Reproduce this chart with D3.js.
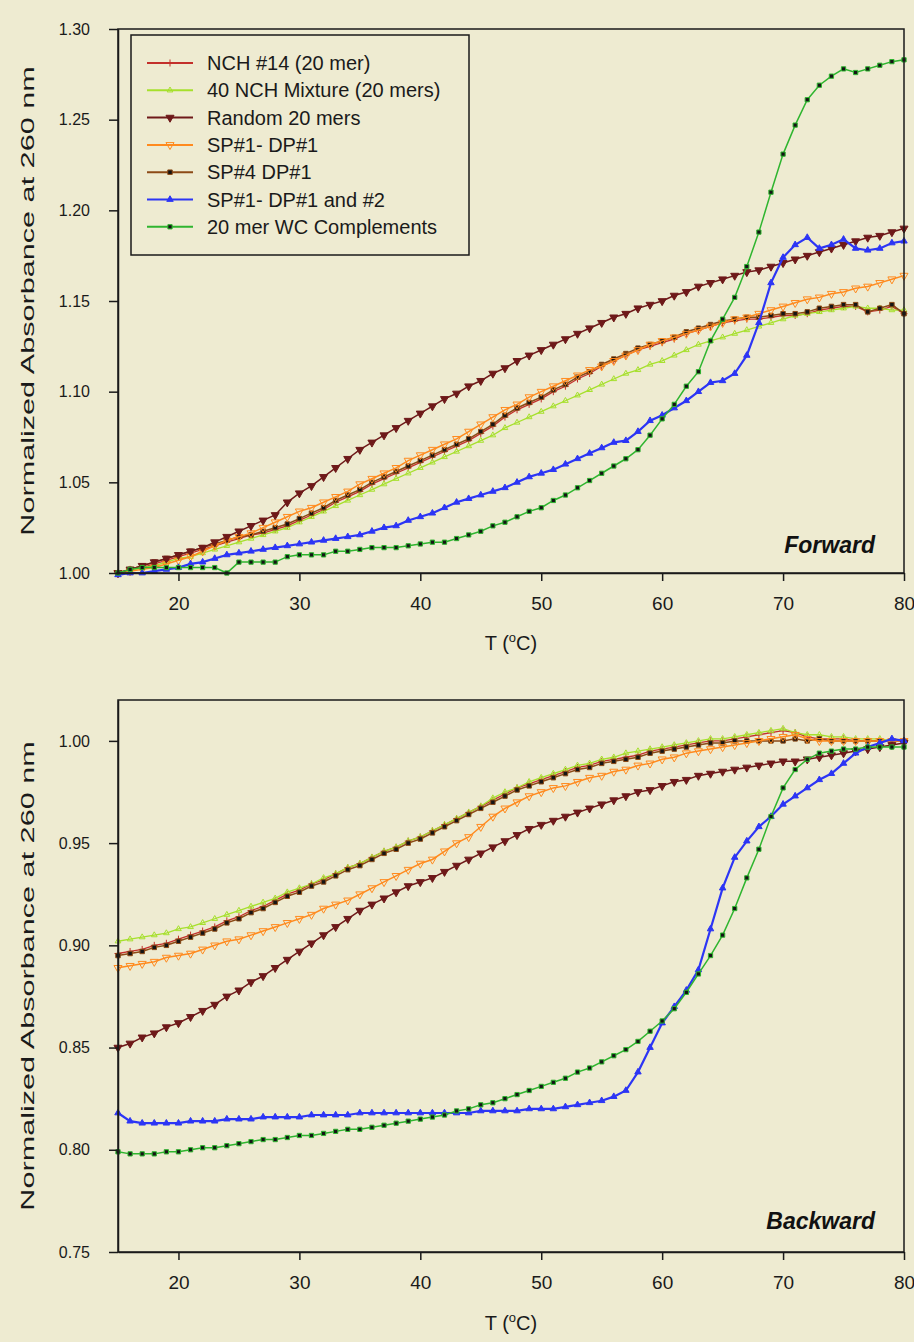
<!DOCTYPE html>
<html lang="en">
<head>
<meta charset="UTF-8" />
<title>UV melting curves - Forward / Backward</title>
<script src="https://d3js.org/d3.v7.min.js"></script>
<style>
  body { margin: 0; background: #eeebd1; }
  svg { display: block; font-family: "Liberation Sans", Arial, sans-serif; }
  .axis path, .axis line { stroke: #1a1a1a; stroke-width: 1.5px; }
  .axis text { fill: #1a1a1a; }
  .line { fill: none; }
</style>
</head>
<body>
<svg width="914" height="1342"></svg>
<script>
// temperature grid (deg C)
const temps = [15,16,17,18,19,20,21,22,23,24,25,26,27,28,29,30,31,32,33,34,35,36,37,38,39,40,
  41,42,43,44,45,46,47,48,49,50,51,52,53,54,55,56,57,58,59,60,61,62,63,64,65,66,67,68,69,70,
  71,72,73,74,75,76,77,78,79,80];

const seriesNames = ["NCH #14 (20 mer)", "40 NCH Mixture (20 mers)", "Random 20 mers",
  "SP#1- DP#1", "SP#4 DP#1", "SP#1- DP#1 and #2", "20 mer WC Complements"];

const xTicks = [20, 30, 40, 50, 60, 70, 80];
const fwdTicks = [1.00, 1.05, 1.10, 1.15, 1.20, 1.25, 1.30];
const bwdTicks = [0.75, 0.80, 0.85, 0.90, 0.95, 1.00];

// ---- Forward (heating) ----
const fwdNch14 = [1.000,1.002,1.003,1.005,1.007,1.009,1.011,1.013,1.015,1.017,
  1.019,1.021,1.022,1.024,1.026,1.029,1.032,1.035,1.039,1.042,
  1.045,1.049,1.052,1.055,1.058,1.061,1.064,1.067,1.070,1.073,
  1.077,1.081,1.086,1.090,1.093,1.096,1.100,1.103,1.107,1.110,
  1.114,1.117,1.120,1.123,1.125,1.127,1.129,1.132,1.134,1.136,
  1.138,1.139,1.140,1.140,1.141,1.142,1.142,1.143,1.145,1.146,
  1.147,1.147,1.144,1.145,1.147,1.143];
const fwdNchMix = [1.000,1.001,1.003,1.004,1.006,1.008,1.009,1.011,1.013,1.015,
  1.017,1.019,1.021,1.023,1.025,1.028,1.031,1.034,1.037,1.040,
  1.043,1.046,1.049,1.052,1.055,1.058,1.061,1.064,1.067,1.070,
  1.073,1.076,1.080,1.083,1.086,1.089,1.092,1.095,1.098,1.101,
  1.104,1.107,1.110,1.112,1.115,1.117,1.120,1.123,1.126,1.128,
  1.130,1.132,1.134,1.136,1.138,1.140,1.142,1.143,1.144,1.145,
  1.146,1.147,1.146,1.146,1.145,1.145];
const fwdRandom = [1.000,1.002,1.004,1.006,1.008,1.010,1.012,1.014,1.017,1.020,
  1.023,1.026,1.029,1.032,1.039,1.044,1.048,1.053,1.058,1.063,
  1.068,1.072,1.076,1.080,1.084,1.088,1.092,1.096,1.099,1.103,
  1.106,1.110,1.113,1.117,1.120,1.123,1.126,1.129,1.132,1.135,
  1.138,1.141,1.143,1.146,1.148,1.150,1.153,1.155,1.158,1.160,
  1.162,1.164,1.166,1.167,1.169,1.171,1.173,1.175,1.177,1.179,
  1.181,1.183,1.185,1.186,1.188,1.190];
const fwdSp1Dp1 = [1.000,1.001,1.002,1.003,1.005,1.007,1.009,1.012,1.015,1.018,
  1.020,1.022,1.025,1.028,1.031,1.034,1.036,1.039,1.042,1.045,
  1.049,1.052,1.055,1.058,1.062,1.065,1.068,1.071,1.074,1.078,
  1.082,1.086,1.090,1.093,1.097,1.100,1.103,1.106,1.109,1.112,
  1.114,1.117,1.120,1.123,1.126,1.128,1.130,1.132,1.134,1.136,
  1.138,1.140,1.141,1.143,1.145,1.147,1.149,1.151,1.152,1.154,
  1.155,1.157,1.158,1.160,1.162,1.164];
const fwdSp4Dp1 = [1.000,1.002,1.004,1.006,1.008,1.010,1.012,1.014,1.016,1.018,
  1.020,1.021,1.023,1.025,1.027,1.030,1.033,1.036,1.040,1.043,
  1.046,1.050,1.053,1.056,1.059,1.062,1.065,1.068,1.071,1.074,
  1.078,1.082,1.087,1.091,1.094,1.097,1.101,1.104,1.108,1.111,
  1.115,1.118,1.121,1.124,1.126,1.128,1.130,1.133,1.135,1.137,
  1.139,1.140,1.141,1.141,1.142,1.143,1.143,1.144,1.146,1.147,
  1.148,1.148,1.144,1.146,1.148,1.143];
const fwdSp1Dp12 = [0.999,1.000,1.000,1.001,1.002,1.003,1.005,1.006,1.008,1.010,
  1.011,1.012,1.013,1.014,1.015,1.016,1.017,1.018,1.019,1.020,
  1.021,1.023,1.025,1.026,1.029,1.031,1.033,1.036,1.039,1.041,
  1.043,1.045,1.047,1.050,1.053,1.055,1.057,1.060,1.063,1.066,
  1.069,1.072,1.073,1.078,1.084,1.087,1.091,1.095,1.100,1.105,
  1.106,1.110,1.120,1.138,1.160,1.174,1.181,1.185,1.179,1.181,
  1.184,1.179,1.178,1.179,1.182,1.183];
const fwdWc = [1.000,1.002,1.003,1.003,1.003,1.003,1.003,1.003,1.003,1.000,
  1.006,1.006,1.006,1.006,1.009,1.010,1.010,1.010,1.012,1.012,
  1.013,1.014,1.014,1.014,1.015,1.016,1.017,1.017,1.019,1.021,
  1.023,1.026,1.028,1.031,1.034,1.036,1.040,1.043,1.047,1.051,
  1.055,1.059,1.063,1.068,1.076,1.085,1.093,1.103,1.111,1.128,
  1.140,1.152,1.169,1.188,1.210,1.231,1.247,1.261,1.269,1.274,
  1.278,1.276,1.278,1.280,1.282,1.283];

// ---- Backward (cooling) ----
const bwdNch14 = [0.896,0.897,0.898,0.900,0.901,0.903,0.905,0.907,0.909,0.912,
  0.914,0.917,0.919,0.922,0.925,0.927,0.930,0.932,0.935,0.938,
  0.940,0.943,0.946,0.948,0.951,0.953,0.956,0.959,0.962,0.965,
  0.968,0.971,0.974,0.977,0.979,0.981,0.983,0.985,0.987,0.988,
  0.990,0.991,0.992,0.993,0.995,0.996,0.997,0.998,0.999,1.000,
  1.000,1.001,1.002,1.003,1.004,1.005,1.004,1.002,1.001,1.001,
  1.001,1.000,1.000,1.000,1.000,1.000];
const bwdNchMix = [0.902,0.903,0.904,0.905,0.906,0.908,0.909,0.911,0.913,0.915,
  0.917,0.919,0.921,0.923,0.926,0.928,0.930,0.933,0.935,0.938,
  0.940,0.943,0.946,0.948,0.951,0.953,0.956,0.959,0.962,0.965,
  0.968,0.972,0.975,0.977,0.980,0.982,0.984,0.986,0.988,0.989,
  0.991,0.992,0.994,0.995,0.996,0.997,0.998,0.999,1.000,1.001,
  1.001,1.002,1.003,1.004,1.005,1.006,1.004,1.003,1.003,1.002,
  1.002,1.001,1.001,1.001,1.000,1.000];
const bwdRandom = [0.850,0.852,0.855,0.857,0.860,0.862,0.865,0.868,0.871,0.875,
  0.878,0.882,0.885,0.889,0.893,0.897,0.901,0.905,0.909,0.913,
  0.917,0.920,0.923,0.926,0.929,0.931,0.933,0.936,0.939,0.942,
  0.945,0.948,0.951,0.954,0.957,0.959,0.961,0.963,0.965,0.967,
  0.969,0.971,0.973,0.975,0.976,0.978,0.980,0.981,0.983,0.984,
  0.985,0.986,0.987,0.988,0.989,0.990,0.990,0.991,0.992,0.993,
  0.994,0.995,0.996,0.997,0.998,0.999];
const bwdSp1Dp1 = [0.889,0.890,0.891,0.892,0.894,0.895,0.896,0.898,0.900,0.902,
  0.903,0.905,0.907,0.909,0.911,0.913,0.915,0.918,0.920,0.922,
  0.925,0.928,0.931,0.934,0.937,0.940,0.942,0.946,0.950,0.953,
  0.958,0.963,0.967,0.970,0.973,0.975,0.977,0.978,0.980,0.982,
  0.983,0.985,0.986,0.988,0.989,0.991,0.992,0.994,0.995,0.996,
  0.997,0.998,0.999,1.000,1.001,1.002,1.003,1.001,1.000,1.000,
  1.000,1.000,1.000,1.000,1.000,1.000];
const bwdSp4Dp1 = [0.895,0.896,0.897,0.899,0.900,0.902,0.904,0.906,0.908,0.911,
  0.913,0.916,0.918,0.921,0.924,0.926,0.929,0.931,0.934,0.937,
  0.939,0.942,0.945,0.947,0.950,0.952,0.955,0.958,0.961,0.964,
  0.967,0.970,0.973,0.976,0.978,0.980,0.982,0.984,0.986,0.987,
  0.989,0.990,0.991,0.992,0.994,0.995,0.996,0.997,0.998,0.999,
  0.999,1.000,1.000,1.000,1.000,1.000,1.001,1.000,1.001,1.000,
  1.000,1.000,1.000,1.000,1.000,1.000];
const bwdSp1Dp12 = [0.818,0.814,0.813,0.813,0.813,0.813,0.814,0.814,0.814,0.815,
  0.815,0.815,0.816,0.816,0.816,0.816,0.817,0.817,0.817,0.817,
  0.818,0.818,0.818,0.818,0.818,0.818,0.818,0.818,0.818,0.818,
  0.819,0.819,0.819,0.819,0.820,0.820,0.820,0.821,0.822,0.823,
  0.824,0.826,0.829,0.838,0.850,0.862,0.870,0.878,0.888,0.908,
  0.928,0.943,0.951,0.958,0.963,0.969,0.973,0.977,0.981,0.984,
  0.989,0.994,0.997,0.999,1.001,1.000];
const bwdWc = [0.799,0.798,0.798,0.798,0.799,0.799,0.800,0.801,0.801,0.802,
  0.803,0.804,0.805,0.805,0.806,0.807,0.807,0.808,0.809,0.810,
  0.810,0.811,0.812,0.813,0.814,0.815,0.816,0.817,0.819,0.820,
  0.822,0.823,0.825,0.827,0.829,0.831,0.833,0.835,0.838,0.840,
  0.843,0.846,0.849,0.853,0.858,0.863,0.869,0.877,0.886,0.895,
  0.905,0.918,0.933,0.947,0.963,0.977,0.986,0.991,0.994,0.995,
  0.996,0.996,0.997,0.997,0.997,0.997];

// look of each series, same order as seriesNames
const styles = [
  { color: "#c3302b", width: 1.3, sym: "plus",    size: 18, fill: "none",    stroke: "#c3302b" },
  { color: "#a6e02c", width: 1.3, sym: "triUp",   size: 14, fill: "none",    stroke: "#a6e02c" },
  { color: "#6e1919", width: 1.5, sym: "triDown", size: 28, fill: "#6e1919", stroke: "#6e1919" },
  { color: "#ff8a1e", width: 1.5, sym: "triDown", size: 28, fill: "none",    stroke: "#ff8a1e" },
  { color: "#8c4a16", width: 1.5, sym: "square",  size: 20, fill: "#141414", stroke: "#8c4a16" },
  { color: "#2c35f5", width: 2.2, sym: "triUp",   size: 18, fill: "#2c35f5", stroke: "#2c35f5" },
  { color: "#2fb52f", width: 1.5, sym: "square",  size: 18, fill: "#141414", stroke: "#2fb52f" }
];
const drawOrder = [0, 1, 4, 3, 2, 5, 6];

const svg = d3.select("svg");
const x = d3.scaleLinear().domain([15, 80]).range([118, 904]);

function symbolPath(kind, size) {
  const t = { plus: d3.symbolPlus || d3.symbolCross, triUp: d3.symbolTriangle,
              triDown: d3.symbolTriangle, square: d3.symbolSquare }[kind];
  return d3.symbol(t, size)();
}

function drawMarkers(g, st, pts) {
  g.selectAll(null)
    .data(pts)
    .join("path")
    .attr("d", symbolPath(st.sym, st.size))
    .attr("transform", d => `translate(${d[0]},${d[1]})` + (st.sym === "triDown" ? " rotate(180)" : ""))
    .attr("fill", st.fill)
    .attr("stroke", st.stroke)
    .attr("stroke-width", 1);
}

function drawPanel(p) {
  const y = d3.scaleLinear().domain([p.yMin, p.yMax]).range([p.bottom, p.top]);
  const g = svg.append("g");

  // curves
  drawOrder.forEach(i => {
    const st = styles[i];
    const pts = temps.map((t, k) => [x(t), y(p.values[i][k])]);
    g.append("path")
      .attr("class", "line")
      .attr("d", d3.line()(pts))
      .attr("stroke", st.color)
      .attr("stroke-width", st.width);
    drawMarkers(g, st, pts);
  });

  // frame
  g.append("rect")
    .attr("x", x(15)).attr("y", p.top)
    .attr("width", x(80) - x(15)).attr("height", p.bottom - p.top)
    .attr("fill", "none").attr("stroke", "#1a1a1a").attr("stroke-width", 1.5);

  g.append("g")
    .attr("class", "axis")
    .attr("transform", `translate(0,${p.bottom})`)
    .call(d3.axisBottom(x).tickValues(xTicks).tickSize(8).tickSizeOuter(0).tickPadding(16))
    .call(a => a.selectAll("text").attr("font-size", 19));

  g.append("g")
    .attr("class", "axis")
    .attr("transform", `translate(${x(15)},0)`)
    .call(d3.axisLeft(y).tickValues(p.ticks).tickFormat(d3.format(".2f"))
      .tickSize(9).tickSizeOuter(0).tickPadding(19))
    .call(a => a.selectAll("text").attr("font-size", 16));

  // axis titles (the y title is drawn stretched along its length, as in the scan)
  svg.append("text")
    .attr("transform", `translate(34,${(p.top + p.bottom) / 2}) rotate(-90) scale(1.7,1)`)
    .attr("text-anchor", "middle")
    .attr("font-size", 18)
    .attr("fill", "#1a1a1a")
    .text("Normalized Absorbance at 260 nm");

  const tt = svg.append("text")
    .attr("x", 511).attr("y", p.titleY)
    .attr("text-anchor", "middle")
    .attr("font-size", 20)
    .attr("fill", "#1a1a1a");
  tt.append("tspan").text("T (");
  tt.append("tspan").attr("font-size", 13).attr("dy", -8).text("o");
  tt.append("tspan").attr("dy", 8).text("C)");

  svg.append("text")
    .attr("x", 875).attr("y", p.tagY)
    .attr("text-anchor", "end")
    .attr("font-size", 23)
    .attr("font-weight", "bold")
    .attr("font-style", "italic")
    .attr("fill", "#111")
    .text(p.tag);
}

drawPanel({ top: 29, bottom: 573, yMin: 1.00, yMax: 1.30, ticks: fwdTicks,
  values: [fwdNch14, fwdNchMix, fwdRandom, fwdSp1Dp1, fwdSp4Dp1, fwdSp1Dp12, fwdWc],
  tag: "Forward", tagY: 553, titleY: 650 });

drawPanel({ top: 700, bottom: 1252, yMin: 0.75, yMax: 1.02, ticks: bwdTicks,
  values: [bwdNch14, bwdNchMix, bwdRandom, bwdSp1Dp1, bwdSp4Dp1, bwdSp1Dp12, bwdWc],
  tag: "Backward", tagY: 1229, titleY: 1330 });

// legend (forward panel)
const lg = svg.append("g");
lg.append("rect")
  .attr("x", 131).attr("y", 35).attr("width", 338).attr("height", 220)
  .attr("fill", "#eeebd1").attr("stroke", "#1a1a1a").attr("stroke-width", 1.5);
seriesNames.forEach((name, i) => {
  const st = styles[i];
  const cy = 63 + i * 27.3;
  lg.append("line")
    .attr("x1", 147).attr("x2", 193).attr("y1", cy).attr("y2", cy)
    .attr("stroke", st.color).attr("stroke-width", 2);
  drawMarkers(lg, st, [[170, cy]]);
  lg.append("text")
    .attr("x", 207).attr("y", cy + 7)
    .attr("font-size", 20)
    .attr("fill", "#1a1a1a")
    .text(name);
});
</script>
</body>
</html>
